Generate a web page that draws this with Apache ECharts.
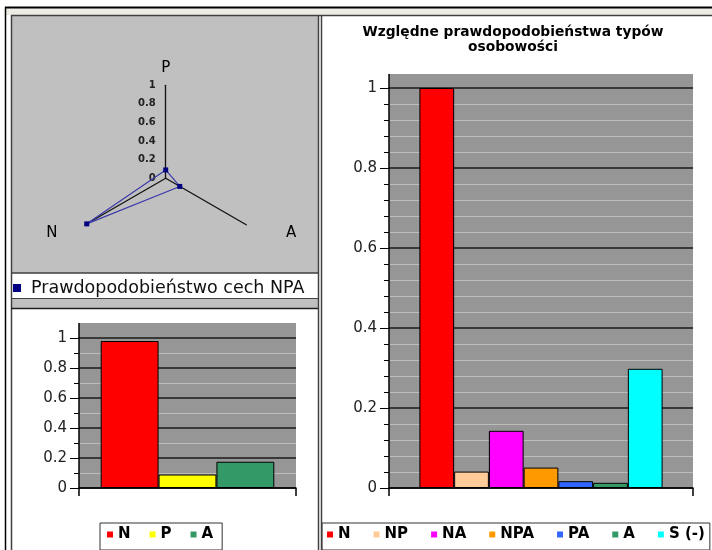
<!DOCTYPE html>
<html><head><meta charset="utf-8">
<script src="https://cdn.jsdelivr.net/npm/echarts@6/dist/echarts.min.js"></script>
<style>html,body{margin:0;padding:0;background:#fff}#c{width:712px;height:550px}</style>
</head><body><div id="c"></div>
<script>
// ---- data ----
const traitCategories = ['N', 'P', 'A'];
const traitValues = [0.98, 0.09, 0.175];
const traitColors = ['#ff0000', '#ffff00', '#339966'];
const radarOrder = ['P', 'N', 'A'];
const radarSeriesName = 'Prawdopodobieństwo cech NPA';
const typeCategories = ['N', 'NP', 'NA', 'NPA', 'PA', 'A', 'S (-)'];
const typeValues = [1.0, 0.041, 0.143, 0.051, 0.017, 0.013, 0.298];
const typeColors = ['#ff0000', '#ffcc99', '#ff00ff', '#ff9900', '#3366ff', '#339966', '#00ffff'];
const valueTicks = ['0', '0.2', '0.4', '0.6', '0.8', '1'];
const titleText = 'Względne prawdopodobieństwa typów\nosobowości';

const FONT = 'DejaVu Sans';
const PLOT_GRAY = '#969696';

function valueAxis(gridIndex, minorSplit) {
  return {
    gridIndex, type: 'value', min: 0, max: 1, interval: 0.2,
    axisLine: { show: true, lineStyle: { color: '#000', width: 1.5 } },
    axisTick: { show: true, length: 9, lineStyle: { color: '#000', width: 1 } },
    minorTick: { show: true, splitNumber: minorSplit, length: 5, lineStyle: { color: '#000', width: 1 } },
    splitLine: { show: true, lineStyle: { color: '#1a1a1a', width: 1.5 } },
    minorSplitLine: { show: true, lineStyle: { color: '#bdbdbd', width: 1 } },
    axisLabel: { margin: 12, fontSize: 15, color: '#222', fontFamily: FONT,
      formatter: v => valueTicks[Math.round(v / 0.2)] }
  };
}
function catAxis(gridIndex) {
  return {
    gridIndex, type: 'category', data: ['NPA'],
    axisLine: { show: true, lineStyle: { color: '#000', width: 1.5 } },
    axisTick: { show: true, length: 8, inside: false, lineStyle: { color: '#000', width: 1.5 } },
    axisLabel: { show: false }, splitLine: { show: false }
  };
}

const series = [];
traitCategories.forEach((name, i) => {
  series.push({
    type: 'bar', name, xAxisIndex: 0, yAxisIndex: 0, data: [traitValues[i]],
    barGap: '0%', barCategoryGap: '20%',
    itemStyle: { color: traitColors[i], borderColor: '#000', borderWidth: 1 }
  });
});
typeCategories.forEach((name, i) => {
  series.push({
    type: 'bar', name, xAxisIndex: 1, yAxisIndex: 1, data: [typeValues[i]],
    barGap: '0%', barCategoryGap: '20%',
    itemStyle: { color: typeColors[i], borderColor: '#000', borderWidth: 1 }
  });
});
series.push({
  type: 'radar', radarIndex: 0, name: radarSeriesName,
  symbol: 'rect', symbolSize: 5,
  itemStyle: { color: '#000080' },
  lineStyle: { color: '#3a3aa8', width: 1.2 },
  data: [{ name: radarSeriesName,
    value: radarOrder.map(k => traitValues[traitCategories.indexOf(k)]) }]
});

const ln = (x1, y1, x2, y2, color, w) => ({
  type: 'line', z: 50, silent: true,
  shape: { x1, y1, x2, y2 }, style: { stroke: color, lineWidth: w }
});
const rc = (x, y, width, height, fill, z) => ({
  type: 'rect', z: z, silent: true, shape: { x, y, width, height }, style: { fill }
});

const option = {
  animation: false,
  backgroundColor: '#ffffff',
  textStyle: { fontFamily: FONT },
  title: {
    text: titleText, left: 513, top: 25, textAlign: 'center', padding: 0,
    textStyle: { fontSize: 13.8, fontWeight: 'bold', lineHeight: 15, color: '#000', fontFamily: FONT }
  },
  grid: [
    { left: 79, top: 338, width: 217, height: 150, show: true, backgroundColor: PLOT_GRAY, borderWidth: 0 },
    { left: 389, top: 88, width: 304, height: 400, show: true, backgroundColor: PLOT_GRAY, borderWidth: 0 }
  ],
  xAxis: [catAxis(0), catAxis(1)],
  yAxis: [valueAxis(0, 2), valueAxis(1, 5)],
  radar: {
    center: [165.7, 178.3], radius: 93, startAngle: 90, splitNumber: 5, shape: 'polygon',
    nameGap: 10,
    indicator: radarOrder.map(k => {
      const o = { name: k, min: 0, max: 1 };
      if (k === 'P') o.axisLabel = { show: true, fontSize: 10, fontWeight: 'bold', color: '#222', margin: 10, fontFamily: FONT };
      return o;
    }),
    axisLine: { show: true, lineStyle: { color: '#111', width: 1.3 } },
    axisTick: { show: false },
    splitLine: { show: false },
    splitArea: { show: false },
    axisLabel: { show: false },
    axisName: {
      color: '#000', fontSize: 15, fontFamily: FONT,
      formatter: name => '{' + name + '|' + name + '}',
      rich: {
        N: { padding: [6, 19, 0, 0], fontSize: 15, color: '#000', fontFamily: FONT },
        A: { padding: [6, 0, 0, 31], fontSize: 15, color: '#000', fontFamily: FONT },
        P: { fontSize: 15, color: '#000', fontFamily: FONT }
      }
    }
  },
  legend: [
    { data: [radarSeriesName], left: 9, top: 277, icon: 'rect', itemWidth: 8, itemHeight: 8,
      padding: [2, 2, 2, 4], selectedMode: false, itemStyle: { borderWidth: 0 },
      textStyle: { fontSize: 17.5, color: '#111', fontFamily: FONT, padding: [0, 0, 0, 5] } },
    { data: traitCategories, left: 100, top: 523, icon: 'rect', itemWidth: 6, itemHeight: 6, itemGap: 19,
      padding: [4, 9, 8, 7], borderColor: '#333', borderWidth: 1, selectedMode: false,
      itemStyle: { borderWidth: 0 },
      textStyle: { fontSize: 15, fontWeight: 'bold', color: '#000', fontFamily: FONT } },
    { data: typeCategories, left: 322, top: 523, width: 388, icon: 'rect', itemWidth: 6, itemHeight: 6, itemGap: 23,
      padding: [4, 5, 8, 5], borderColor: '#333', borderWidth: 1, selectedMode: false,
      itemStyle: { borderWidth: 0 },
      textStyle: { fontSize: 15, fontWeight: 'bold', color: '#000', fontFamily: FONT } }
  ],
  graphic: { elements: [
    rc(6, 8, 706, 7, '#efece6', -10),
    rc(12, 16, 306, 257, '#c0c0c0', -10),
    rc(12, 299, 306, 9, '#c0c0c0', -10),
    rc(79, 323, 217, 15, PLOT_GRAY, -10),
    rc(389, 74, 304, 14, PLOT_GRAY, -10),
    ln(79, 323, 79, 338, '#000', 1.5),
    ln(389, 74, 389, 88, '#000', 1.5),
    ln(5, 7.5, 712, 7.5, '#000', 2),
    ln(5.5, 7, 5.5, 550, '#000', 1.5),
    ln(11.5, 15, 11.5, 550, '#404040', 1.5),
    ln(11, 15.5, 712, 15.5, '#404040', 1.5),
    ln(11, 273, 319, 273, '#404040', 1.5),
    ln(11, 298.5, 319, 298.5, '#404040', 1),
    ln(11, 308.5, 319, 308.5, '#202020', 1.5),
    ln(318.5, 15, 318.5, 550, '#404040', 1.5),
    ln(321.5, 15, 321.5, 550, '#404040', 1.5)
  ] },
  series
};
echarts.init(document.getElementById('c'), null, { renderer: 'canvas' }).setOption(option);
</script></body></html>
